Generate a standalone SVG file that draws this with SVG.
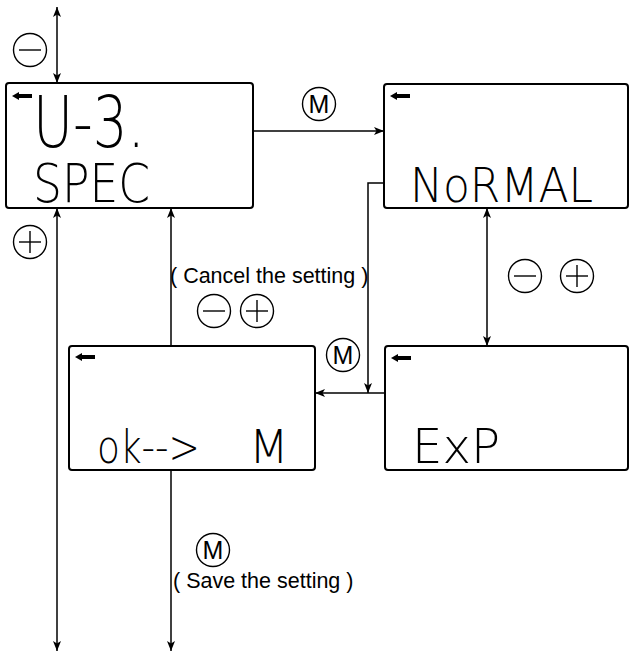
<svg xmlns="http://www.w3.org/2000/svg" width="630" height="655" viewBox="0 0 630 655">
<style>
.box{fill:#fff;stroke:#000;stroke-width:2}
.ln{fill:none;stroke:#000;stroke-width:1.5}
.btn{fill:#fff;stroke:#000;stroke-width:1.4}
.sym{stroke:#000;stroke-width:1.4;fill:none}
.m{font-family:"Liberation Sans",Arial,sans-serif;font-size:25px;text-anchor:middle;fill:#000}
.lbl{font-family:"Liberation Sans",Arial,sans-serif;font-size:21.5px;fill:#000}
.lcd{font-family:"DejaVu Sans",sans-serif;font-weight:200;fill:#000}
</style>
<defs>
<marker id="ah" viewBox="0 0 10 8" markerWidth="10" markerHeight="8" refX="10" refY="4" orient="auto-start-reverse" markerUnits="userSpaceOnUse">
<path d="M0,0 L10,4 L0,8 L2.5,4 Z" fill="#000"/>
</marker>
<path id="back" d="M0,4 L7,0 L7,2 L20,2 L20,6 L7,6 L7,8 Z" fill="#000"/>
</defs>

<g id="connectors">
<line class="ln" x1="57" y1="7" x2="57" y2="83" marker-start="url(#ah)" marker-end="url(#ah)"/>
<line class="ln" x1="57" y1="208" x2="57" y2="651" marker-start="url(#ah)" marker-end="url(#ah)"/>
<line class="ln" x1="253" y1="131" x2="384" y2="131" marker-end="url(#ah)"/>
<line class="ln" x1="171" y1="346" x2="171" y2="208" marker-end="url(#ah)"/>
<line class="ln" x1="171" y1="470" x2="171" y2="651" marker-end="url(#ah)"/>
<line class="ln" x1="487" y1="208" x2="487" y2="346" marker-start="url(#ah)" marker-end="url(#ah)"/>
<polyline class="ln" points="384,183 368,183 368,393" marker-end="url(#ah)"/>
<line class="ln" x1="385" y1="393" x2="315" y2="393" marker-end="url(#ah)"/>
</g>

<g id="node-spec">
<rect class="box" x="6" y="83" width="247" height="125" rx="3"/>
<use href="#back" x="12" y="92"/>
<text class="lcd" x="33" y="147" font-size="71" textLength="112" lengthAdjust="spacingAndGlyphs">U-3.</text>
<text class="lcd" x="33" y="202" font-size="53" textLength="117" lengthAdjust="spacingAndGlyphs">SPEC</text>
</g>

<g id="node-normal">
<rect class="box" x="384" y="84" width="244" height="124" rx="3"/>
<use href="#back" x="390" y="92"/>
<text class="lcd" x="410" y="202" font-size="48" textLength="183" lengthAdjust="spacingAndGlyphs">NoRMAL</text>
</g>

<g id="node-ok">
<rect class="box" x="69" y="346" width="246" height="124" rx="3"/>
<use href="#back" x="75" y="353"/>
<text class="lcd" y="463" font-size="46"><tspan x="97" textLength="103" lengthAdjust="spacingAndGlyphs">ok--&gt;</tspan><tspan x="249">M</tspan></text>
</g>

<g id="node-exp">
<rect class="box" x="385" y="346" width="243" height="124" rx="3"/>
<use href="#back" x="391" y="354"/>
<text class="lcd" x="412" y="463" font-size="48" textLength="88" lengthAdjust="spacingAndGlyphs">ExP</text>
</g>

<g id="buttons">
<g id="btn-minus-top"><circle class="btn" cx="30" cy="50" r="16.5"/><line class="sym" x1="19" y1="50" x2="41" y2="50"/></g>
<g id="btn-plus-left"><circle class="btn" cx="30" cy="242" r="16.5"/><line class="sym" x1="19" y1="242" x2="41" y2="242"/><line class="sym" x1="30" y1="231" x2="30" y2="253"/></g>
<g id="btn-m-top"><circle class="btn" cx="319" cy="104" r="16.5"/><text class="m" x="319" y="113">M</text></g>
<g id="btn-minus-mid"><circle class="btn" cx="214" cy="311" r="16.5"/><line class="sym" x1="203" y1="311" x2="225" y2="311"/></g>
<g id="btn-plus-mid"><circle class="btn" cx="257" cy="311" r="16.5"/><line class="sym" x1="246" y1="311" x2="268" y2="311"/><line class="sym" x1="257" y1="300" x2="257" y2="322"/></g>
<g id="btn-m-mid"><circle class="btn" cx="343" cy="355" r="16.5"/><text class="m" x="343" y="364">M</text></g>
<g id="btn-minus-right"><circle class="btn" cx="525" cy="276" r="16.5"/><line class="sym" x1="514" y1="276" x2="536" y2="276"/></g>
<g id="btn-plus-right"><circle class="btn" cx="577" cy="276" r="16.5"/><line class="sym" x1="566" y1="276" x2="588" y2="276"/><line class="sym" x1="577" y1="265" x2="577" y2="287"/></g>
<g id="btn-m-bottom"><circle class="btn" cx="213" cy="550" r="16.5"/><text class="m" x="213" y="559">M</text></g>
</g>

<g id="labels">
<text class="lbl" x="170" y="283">( Cancel the setting )</text>
<text class="lbl" x="173" y="588">( Save the setting )</text>
</g>
</svg>
